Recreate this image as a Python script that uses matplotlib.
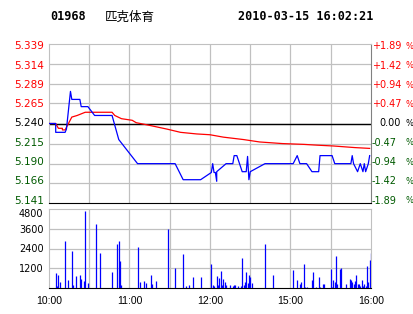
import matplotlib
matplotlib.use("Agg")
import matplotlib.pyplot as plt

# header
code = "01968"
name = "匹克体育"
stamp = "2010-03-15 16:02:21"

# price axis (previous close in the middle)
price_ticks = [5.141, 5.166, 5.190, 5.215, 5.240, 5.265, 5.289, 5.314, 5.339]
price_labels = ["5.141", "5.166", "5.190", "5.215", "5.240", "5.265", "5.289", "5.314", "5.339"]
pct_labels = ["-1.89", "-1.42", "-0.94", "-0.47", "0.00", "+0.47", "+0.94", "+1.42", "+1.89"]

# time axis in trading minutes from 10:00 (lunch break removed)
time_ticks = [0, 60, 120, 180, 240]
time_labels = ["10:00", "11:00", "12:00", "15:00", "16:00"]

# last price (minute, price)
price_t = [0, 5, 5, 12, 13, 16, 17, 23, 24, 29, 34, 47, 52, 66, 94, 100, 113, 121, 122,
           123, 124, 125, 125, 132, 137, 138, 140, 142, 144, 147, 148, 149, 150, 161,
           182, 185, 187, 192, 196, 201, 202, 211, 213, 225, 226, 227, 230, 232, 234,
           235, 236, 238, 239]
price_v = [5.240, 5.240, 5.229, 5.229, 5.233, 5.280, 5.270, 5.270, 5.261, 5.261, 5.250,
           5.250, 5.220, 5.190, 5.190, 5.170, 5.170, 5.179, 5.190, 5.179, 5.179, 5.168,
           5.180, 5.190, 5.190, 5.200, 5.200, 5.190, 5.180, 5.180, 5.199, 5.170, 5.180,
           5.190, 5.190, 5.200, 5.190, 5.190, 5.180, 5.180, 5.200, 5.200, 5.190, 5.190,
           5.200, 5.190, 5.180, 5.190, 5.180, 5.190, 5.180, 5.190, 5.200]

# average price
avg_t = [0, 5, 7, 10, 10, 12, 17, 21, 27, 47, 49, 54, 62, 65, 74, 88, 98, 110, 120, 130,
         145, 157, 174, 190, 200, 212, 228, 239]
avg_v = [5.240, 5.240, 5.234, 5.234, 5.232, 5.232, 5.248, 5.250, 5.254, 5.254, 5.250,
         5.246, 5.244, 5.241, 5.238, 5.233, 5.229, 5.227, 5.226, 5.223, 5.220, 5.217,
         5.215, 5.214, 5.213, 5.212, 5.210, 5.209]

# volume per minute
vol_t = [5, 6, 7, 8, 12, 14, 17, 18, 20, 23, 24, 26, 27, 29, 35, 38, 47, 51, 52, 53, 54,
         66, 68, 71, 72, 76, 77, 80, 89, 94, 100, 102, 104, 107, 113, 121, 122, 123, 125,
         126, 127, 128, 129, 130, 131, 132, 135, 137, 138, 139, 141, 143, 144, 145, 146,
         147, 148, 149, 150, 151, 161, 167, 182, 185, 187, 188, 190, 191, 192, 196, 197,
         199, 201, 202, 204, 205, 210, 211, 212, 213, 214, 215, 217, 218, 221, 224, 225,
         226, 227, 228, 229, 230, 231, 232, 233, 234, 235, 236, 237, 238, 239, 240]
vol_v = [890, 120, 790, 365, 2860, 490, 2250, 180, 730, 790, 550, 425, 4680, 300, 3890,
         2100, 970, 2650, 2860, 1640, 180, 2490, 365, 425, 300, 790, 240, 425, 3600, 1215,
         2065, 120, 180, 670, 670, 1460, 180, 120, 730, 180, 610, 1030, 180, 550, 365, 180,
         180, 120, 180, 180, 120, 120, 1820, 180, 365, 970, 300, 790, 670, 300, 2670, 790,
         1090, 490, 245, 365, 1460, 60, 60, 490, 970, 60, 670, 60, 245, 245, 1150, 60, 490,
         365, 1940, 245, 1150, 1215, 245, 550, 490, 365, 245, 430, 790, 245, 245, 120, 490,
         120, 245, 120, 1340, 365, 1700, 2130]
vol_ticks = [1200, 2400, 3600, 4800]

RED = "#ff0000"
GREEN = "#005a00"
GRID = "#c0c0c0"
PX = 0.198 / 159  # price per pixel in the upper panel

fig = plt.figure(figsize=(4.14, 3.14), dpi=100)
fig.patch.set_facecolor("white")

fig.text(50 / 414, 1 - 17 / 314, code, family="DejaVu Sans Mono", weight="bold",
         fontsize=8.5, va="center")
fig.text(105 / 414, 1 - 17 / 314, name, family=["Noto Sans CJK SC", "DejaVu Sans"],
         fontsize=9, va="center")
fig.text(238 / 414, 1 - 17 / 314, stamp, family="DejaVu Sans Mono", weight="bold",
         fontsize=8.5, va="center")

# price panel
ax = fig.add_axes([49 / 414, 1 - 203 / 314, 322 / 414, 159 / 314])
ax.set_xlim(0, 240)
ax.set_ylim(5.141, 5.339)
for t in range(30, 240, 30):
    ax.axvline(t, color=GRID, lw=0.9, zorder=1)
for p in price_ticks[1:-1]:
    ax.axhline(p, color=GRID, lw=0.9, zorder=1)
ax.axhline(5.240, color="black", lw=1, zorder=2)
ax.plot(avg_t, avg_v, color=RED, lw=0.9, zorder=3)
ax.plot(price_t, price_v, color="#0000ff", lw=0.9, zorder=4)
ax.set_xticks([])
ax.set_yticks([])

tr = ax.get_yaxis_transform()
n = len(price_ticks)
for i, (p, s, lab) in enumerate(zip(price_ticks, pct_labels, price_labels)):
    c = "black" if s == "0.00" else (RED if s.startswith("+") else GREEN)
    # labels are squeezed a little towards the middle, as in the original
    dy = (n // 2 - i) * 0.6 * PX * (1 if i != n // 2 else 0)
    y = p + dy
    ax.text(-5 / 322, y, lab, transform=tr, color=c, fontsize=7.5,
            family="DejaVu Sans", va="center", ha="right", clip_on=False)
    xs = 1 + 1 / 322 if s != "0.00" else 1 + 8 / 322
    ax.text(xs, y, s, transform=tr, color=c, fontsize=7, family="DejaVu Sans",
            va="center", ha="left", clip_on=False)
    ax.text(1 + 35 / 322, y, "%", transform=tr, color=c, fontsize=6,
            family="DejaVu Sans", va="center", ha="left", clip_on=False)

for side in ["top", "left", "right"]:
    ax.spines[side].set_color(GRID)
ax.spines["right"].set_color("#808080")
ax.spines["bottom"].set_color("black")

# volume panel
vx = fig.add_axes([49 / 414, 1 - 288 / 314, 322 / 414, 79 / 314])
vx.set_xlim(0, 240)
vx.set_ylim(0, 4800)
for t in range(30, 240, 30):
    vx.axvline(t, color=GRID, lw=0.9, zorder=1)
for v in vol_ticks[:-1]:
    vx.axhline(v, color=GRID, lw=0.9, zorder=1)
vx.vlines(vol_t, 0, vol_v, color="#0000ff", lw=0.9, zorder=3)

vx.set_yticks(vol_ticks)
vx.set_yticklabels([str(v) for v in vol_ticks], family="DejaVu Sans", fontsize=7)
vx.get_yticklabels()[-1].set_va("top")
vx.set_xticks(time_ticks)
vx.set_xticklabels(time_labels, family="Liberation Sans", fontsize=7.5)
vx.tick_params(length=0)
vx.tick_params(axis="y", pad=4)
vx.tick_params(axis="x", pad=6)

for side in ["top", "left", "right"]:
    vx.spines[side].set_color(GRID)
vx.spines["bottom"].set_color("black")

fig.savefig("out.png", dpi=100)
